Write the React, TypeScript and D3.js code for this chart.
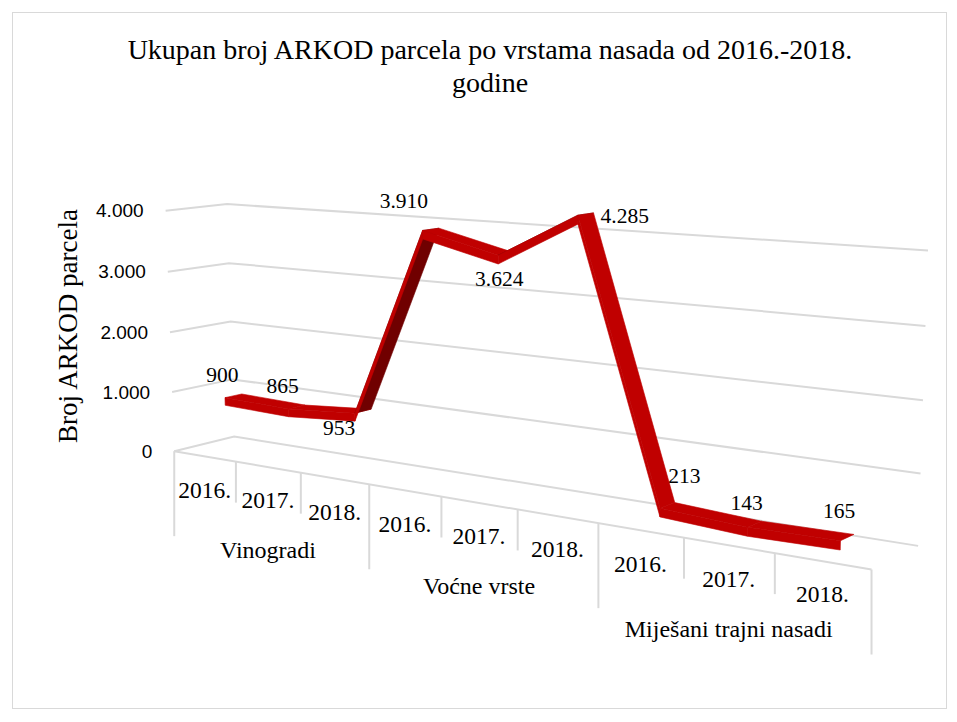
import React, { useEffect, useRef } from 'react';
import * as d3 from 'd3';

const groups = ['Vinogradi', 'Voćne vrste', 'Miješani trajni nasadi'];
const years = ['2016.', '2017.', '2018.'];
const values = [900, 865, 953, 3910, 3624, 4285, 213, 143, 165];
const yTicks = [0, 1000, 2000, 3000, 4000];

// label offsets (px) around each projected point, Excel-ish placement
const labelOffsets = [[-11, -21], [-14, -22], [-24, 16], [-27, -29], [-7, 24], [39, 1], [17, -30], [-8, -22], [-8, -27]];

// calibration of the 3D box: [X, Y, Z, screenX, screenY]
const anchors = [
  [0, 0, 0, 175, 451], [1 / 3, 0, 0, 369, 485], [2 / 3, 0, 0, 598, 523], [1, 0, 0, 872, 569],
  [0, 0, 1, 234, 437], [1, 0, 1, 918, 546], [0, 1, 1, 228, 204], [1, 1, 1, 928, 251],
  [0, 0.5, 1, 230, 321], [1, 0.5, 1, 923, 400], [0, 1, 0, 165, 211], [0, 0.5, 0, 170, 332],
];

function solveProjection() {
  const A: number[][] = [];
  const b: number[] = [];
  anchors.forEach(([X, Y, Z, u, v]) => {
    A.push([X, Y, Z, 1, 0, 0, 0, 0, -u * X, -u * Y, -u * Z]);
    b.push(u);
    A.push([0, 0, 0, 0, X, Y, Z, 1, -v * X, -v * Y, -v * Z]);
    b.push(v);
  });
  const n = 11;
  const M = d3.range(n).map(i => d3.range(n + 1).map(j => {
    if (j === n) return d3.sum(A, (r, k) => r[i] * b[k]);
    return d3.sum(A, r => r[i] * r[j]);
  }));
  for (let c = 0; c < n; c++) {
    let p = c;
    for (let r = c + 1; r < n; r++) if (Math.abs(M[r][c]) > Math.abs(M[p][c])) p = r;
    [M[c], M[p]] = [M[p], M[c]];
    for (let r = 0; r < n; r++) {
      if (r === c) continue;
      const f = M[r][c] / M[c][c];
      for (let k = c; k <= n; k++) M[r][k] -= f * M[c][k];
    }
  }
  const q = M.map((r, i) => r[n] / r[i]);
  return (X: number, Y: number, Z: number): [number, number] => {
    const w = q[8] * X + q[9] * Y + q[10] * Z + 1;
    return [
      (q[0] * X + q[1] * Y + q[2] * Z + q[3]) / w,
      (q[4] * X + q[5] * Y + q[6] * Z + q[7]) / w,
    ];
  };
}

const App = () => {
  const ref = useRef<HTMLDivElement>(null);

  useEffect(() => {
    document.body.style.margin = '0';
    const width = 957;
    const height = 722;
    const P = solveProjection();
    const n = values.length;
    const x = d3.scaleLinear().domain([0, n]).range([0, 1]);
    const y = d3.scaleLinear().domain([0, 4000]).range([0, 1]);
    const fmt = d3.formatLocale({ decimal: ',', thousands: '.', grouping: [3], currency: ['', ''] }).format(',');
    const serif = '"Liberation Serif", "Times New Roman", serif';

    const svg = d3.create('svg')
      .attr('width', width)
      .attr('height', height)
      .attr('style', 'display:block; background:#fff');

    svg.append('rect')
      .attr('x', 12.5).attr('y', 12.5).attr('width', 934).attr('height', 696)
      .attr('fill', 'none').attr('stroke', '#d9d9d9');

    svg.append('text')
      .attr('x', 490).attr('y', 59)
      .attr('text-anchor', 'middle')
      .attr('font-family', serif).attr('font-size', 28)
      .selectAll('tspan')
      .data(['Ukupan broj ARKOD parcela po vrstama nasada od 2016.-2018.', 'godine'])
      .join('tspan')
      .attr('x', 490)
      .attr('dy', (d, i) => i ? 33 : 0)
      .text(d => d);

    const line = d3.line();

    // gridlines (left wall + back wall)
    svg.append('g')
      .attr('fill', 'none').attr('stroke', '#d9d9d9').attr('stroke-width', 2)
      .selectAll('path')
      .data(yTicks)
      .join('path')
      .attr('d', t => line([P(0, y(t), 0), P(0, y(t), 1), P(1, y(t), 1)]));

    // front floor edge + category ticks
    const axis = svg.append('g').attr('stroke', '#d9d9d9').attr('stroke-width', 2).attr('fill', 'none');
    axis.append('path').attr('d', line([P(0, 0, 0), P(1, 0, 0)]));
    axis.selectAll('line')
      .data(d3.range(n + 1))
      .join('line')
      .attr('x1', k => P(x(k), 0, 0)[0])
      .attr('x2', k => P(x(k), 0, 0)[0])
      .attr('y1', k => P(x(k), 0, 0)[1])
      .attr('y2', k => P(x(k), 0, 0)[1] + (k % 3 === 0 ? 85 : 41));

    // y tick labels
    svg.append('g')
      .attr('font-family', '"Liberation Sans", Arial, sans-serif').attr('font-size', 19)
      .attr('text-anchor', 'end')
      .selectAll('text')
      .data(yTicks)
      .join('text')
      .attr('x', t => P(0, y(t), 0)[0] - 22)
      .attr('y', t => P(0, y(t), 0)[1])
      .attr('dy', '0.35em')
      .text(t => fmt(t));

    svg.append('text')
      .attr('transform', 'translate(77,326) rotate(-90)')
      .attr('text-anchor', 'middle')
      .attr('font-family', serif).attr('font-size', 27)
      .text('Broj ARKOD parcela');

    // category labels
    const cats = svg.append('g')
      .attr('font-family', serif)
      .attr('text-anchor', 'middle');
    cats.selectAll('text.year')
      .data(d3.range(n))
      .join('text')
      .attr('class', 'year')
      .attr('font-size', 23.5)
      .attr('x', i => P(x(i + 0.5), 0, 0)[0])
      .attr('y', i => P(x(i + 0.5), 0, 0)[1] + 33)
      .attr('dy', '0.35em')
      .text(i => years[i % 3]);
    cats.selectAll('text.group')
      .data(groups)
      .join('text')
      .attr('class', 'group')
      .attr('font-size', 24)
      .attr('x', (g, i) => P(x(3 * i + 1.5), 0, 0)[0])
      .attr('y', (g, i) => P(x(3 * i + 1.5), 0, 0)[1] + 83)
      .attr('dy', '0.35em')
      .text(g => g);

    // 3D ribbon
    const z0 = 0.36, z1 = 0.64, thick = 0.032;
    const area = (pts: [number, number][]) => d3.polygonArea(pts);
    const refSign = Math.sign(area([P(0, 0, z0), P(1, 0, z0), P(1, 0, z1), P(0, 0, z1)]));
    const ribbon = svg.append('g').attr('stroke-linejoin', 'round');
    for (let i = 0; i < n - 1; i++) {
      const xa = x(i + 0.5), xb = x(i + 1.5);
      const ya = y(values[i]), yb = y(values[i + 1]);
      const top: [number, number][] = [P(xa, ya, z0), P(xb, yb, z0), P(xb, yb, z1), P(xa, ya, z1)];
      const lit = Math.sign(area(top)) === refSign;
      const col = lit ? '#c00000' : '#700000';
      ribbon.append('path')
        .attr('d', line(top) + 'Z')
        .attr('fill', col).attr('stroke', col).attr('stroke-width', 0.6);
      const front: [number, number][] = [P(xa, ya, z0), P(xb, yb, z0), P(xb, yb - thick, z0), P(xa, ya - thick, z0)];
      ribbon.append('path')
        .attr('d', line(front) + 'Z')
        .attr('fill', '#c00000').attr('stroke', '#c00000').attr('stroke-width', 0.6);
    }

    // data labels
    svg.append('g')
      .attr('font-family', serif).attr('font-size', 21.5)
      .attr('text-anchor', 'middle')
      .selectAll('text')
      .data(values)
      .join('text')
      .attr('x', (v, i) => P(x(i + 0.5), y(v), 0.5)[0] + labelOffsets[i][0])
      .attr('y', (v, i) => P(x(i + 0.5), y(v), 0.5)[1] + labelOffsets[i][1])
      .attr('dy', '0.35em')
      .text(v => fmt(v));

    ref.current!.innerHTML = '';
    ref.current!.appendChild(svg.node()!);
  }, []);

  return <div ref={ref}></div>;
};

export default App;
